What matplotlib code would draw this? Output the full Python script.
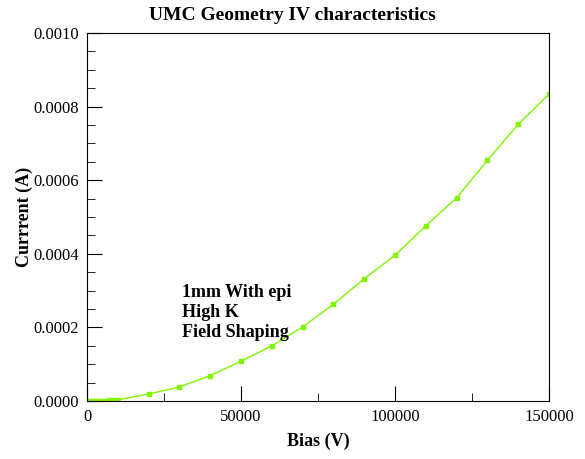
import matplotlib
matplotlib.use("Agg")
import matplotlib.pyplot as plt
from matplotlib.ticker import MultipleLocator

plt.rcParams['font.family'] = ['Liberation Serif', 'DejaVu Serif']

# bias (V) and current (A)
bias = [0, 1000, 2000, 3000, 4000, 5000, 6000, 7000, 8000, 9000, 10000,
        20000, 30000, 40000, 50000, 60000, 70000, 80000, 90000,
        100000, 110000, 120000, 130000, 140000, 150000]
current = [0.0, 0.2e-6, 0.4e-6, 0.6e-6, 0.8e-6, 1.0e-6, 1.3e-6, 1.6e-6, 2.0e-6, 2.4e-6, 3.0e-6,
           0.000019, 0.000038, 0.000069, 0.000108, 0.000150, 0.000201, 0.000263, 0.000332,
           0.000396, 0.000476, 0.000552, 0.000654, 0.000752, 0.000834]

fig = plt.figure(figsize=(5.85, 4.59), dpi=100)
ax = fig.add_axes([87/585, 1 - 401/459, 462/585, 368/459])

ax.plot(bias, current, color="#80f400", linewidth=1, marker="s", markersize=3)

ax.set_xlim(0, 150000)
ax.set_ylim(0, 0.001)
ax.xaxis.set_major_locator(MultipleLocator(50000))
ax.xaxis.set_minor_locator(MultipleLocator(25000))
ax.yaxis.set_major_locator(MultipleLocator(0.0002))
ax.yaxis.set_minor_locator(MultipleLocator(0.00005))
ax.yaxis.set_major_formatter(plt.FuncFormatter(lambda v, p: f"{v:.4f}"))
ax.tick_params(which="both", direction="in", top=False, right=False, labelsize=12)
ax.tick_params(which="major", length=11, pad=6)
ax.tick_params(which="minor", length=6)

ax.set_xlabel("Bias (V)", fontsize=13, fontweight="bold", labelpad=5)
ax.set_ylabel("Currrent (A)", fontsize=13, fontweight="bold")
ax.yaxis.set_label_coords(-0.117, 0.5)
fig.text(0.5, 1 - 15/459, "UMC Geometry IV characteristics", fontsize=14,
         fontweight="bold", ha="center", va="center")

ax.text(0.205, 0.318, "1mm With epi\nHigh K\nField Shaping", transform=ax.transAxes,
        fontsize=13, fontweight="bold", va="top", ha="left", linespacing=1.22)

plt.savefig("out.png", dpi=100)
